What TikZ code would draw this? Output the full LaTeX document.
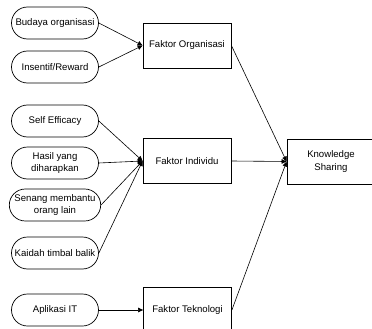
\documentclass[tikz,border=0pt]{standalone}
\usepackage{fontspec}
\setmainfont{Liberation Sans}
\usetikzlibrary{shapes.misc,arrows.meta}
\begin{document}
\begin{tikzpicture}[x=1pt,y=-1pt,
  every node/.style={font=\fontsize{9.6}{12.5}\selectfont, align=center, inner sep=1pt},
  oval/.style={draw, line width=0.7pt, rounded rectangle, minimum width=89pt, minimum height=32pt},
  fbox/.style={draw, line width=0.8pt, minimum width=88pt, minimum height=45pt},
  arr/.style={line width=0.6pt, -{Triangle[length=5pt,width=4.5pt]}}]
\useasboundingbox (0,0) rectangle (372,329);
\clip (0,0) rectangle (372,329);
\node[oval] (bud) at (55,23) {Budaya organisasi};
\node[oval] (ins) at (55,67) {Insentif/Reward};
\node[oval] (self) at (55,121) {Self Efficacy};
\node[oval] (has) at (55,163) {Hasil yang\\diharapkan};
\node[oval] (sen) at (55,205) {Senang membantu\\orang lain};
\node[oval] (kai) at (55,253) {Kaidah timbal balik};
\node[oval] (apl) at (55,310) {Aplikasi IT};
\node[fbox] (org) at (187,45.5) {Faktor Organisasi};
\node[fbox] (ind) at (187,161) {Faktor Individu};
\node[fbox] (tek) at (187.5,310) {Faktor Teknologi};
\node[fbox] (ks) at (331,161.5) {Knowledge\\Sharing};
\draw[arr] (bud.east) -- (org.west);
\draw[arr] (ins.east) -- (org.west);
\draw[arr] (self.east) -- (ind.west);
\draw[arr] (has.east) -- (ind.west);
\draw[arr] (sen.east) -- (ind.west);
\draw[arr] (kai.east) -- (ind.west);
\draw[arr] (apl.east) -- (tek.west);
\draw[arr] (org.east) -- (ks.west);
\draw[arr] (ind.east) -- (ks.west);
\draw[arr] (tek.east) -- (ks.west);
\end{tikzpicture}
\end{document}
